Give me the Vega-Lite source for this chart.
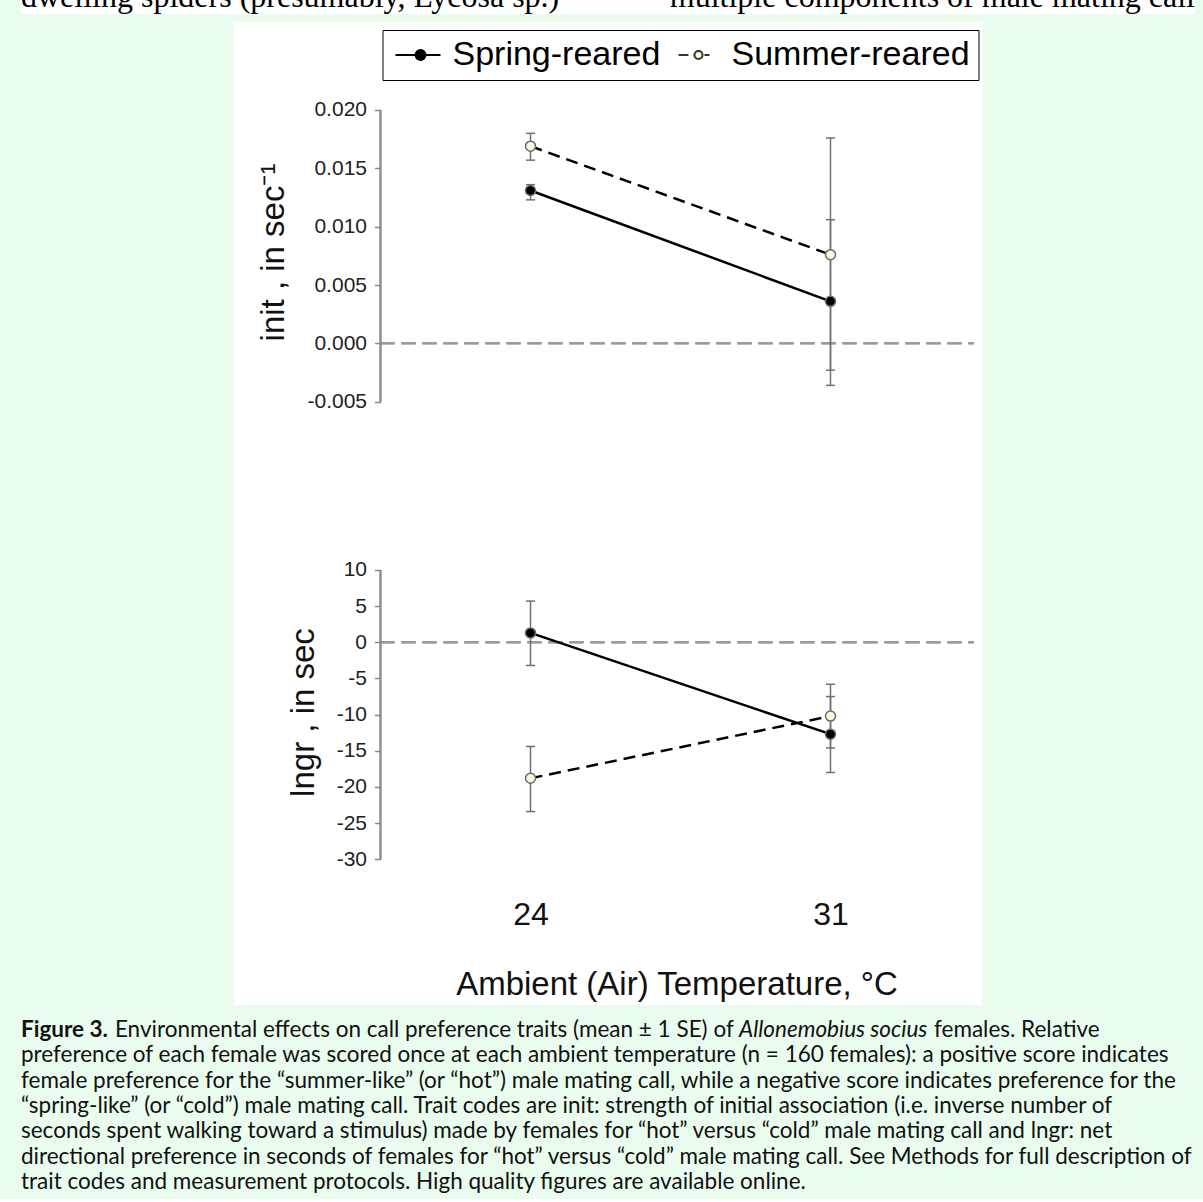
{
  "$schema": "https://vega.github.io/schema/vega-lite/v6.json",
  "background": "#eafcee",
  "padding": {"left": 21, "top": 0, "right": 8, "bottom": 0},
  "config": {"view": {"stroke": null}, "font": "Liberation Sans", "axis": {"grid": false}},
  "datasets": {
    "init": [
      {"temp": 24, "series": "Spring-reared", "mean": 0.0131, "lo": 0.0123, "hi": 0.0136},
      {"temp": 31, "series": "Spring-reared", "mean": 0.0036, "lo": -0.0036, "hi": 0.0106},
      {"temp": 24, "series": "Summer-reared", "mean": 0.0169, "lo": 0.0157, "hi": 0.0180},
      {"temp": 31, "series": "Summer-reared", "mean": 0.0076, "lo": -0.0023, "hi": 0.0176}
    ],
    "lngr": [
      {"temp": 24, "series": "Spring-reared", "mean": 1.3, "lo": -3.2, "hi": 5.7},
      {"temp": 31, "series": "Spring-reared", "mean": -12.7, "lo": -18.0, "hi": -7.5},
      {"temp": 24, "series": "Summer-reared", "mean": -18.8, "lo": -23.4, "hi": -14.4},
      {"temp": 31, "series": "Summer-reared", "mean": -10.2, "lo": -14.6, "hi": -5.8}
    ],
    "strip": [
      {"side": "l", "text": "dwelling spiders (presumably, Lycosa sp.)"},
      {"side": "r", "text": "multiple components of male mating call"}
    ],
    "caption": [
      {"line": 1, "pos": 0, "style": "b", "t": "Figure 3."},
      {"line": 1, "pos": 0.080, "style": "r", "t": "Environmental effects on call preference traits (mean ± 1 SE) of"},
      {"line": 1, "pos": 0.6116, "style": "i", "t": "Allonemobius socius"},
      {"line": 1, "pos": 0.7777, "style": "r", "t": "females. Relative"},
      {"line": 2, "pos": 0, "style": "r", "t": "preference of each female was scored once at each ambient temperature (n = 160 females): a positive score indicates"},
      {"line": 3, "pos": 0, "style": "r", "t": "female preference for the “summer-like” (or “hot”) male mating call, while a negative score indicates preference for the"},
      {"line": 4, "pos": 0, "style": "r", "t": "“spring-like” (or “cold”) male mating call. Trait codes are init: strength of initial association (i.e. inverse number of"},
      {"line": 5, "pos": 0, "style": "r", "t": "seconds spent walking toward a stimulus) made by females for “hot” versus “cold” male mating call and lngr: net"},
      {"line": 6, "pos": 0, "style": "r", "t": "directional preference in seconds of females for “hot” versus “cold” male mating call. See Methods for full description of"},
      {"line": 7, "pos": 0, "style": "r", "t": "trait codes and measurement protocols. High quality figures are available online."}
    ]
  },
  "spacing": 8,
  "center": true,
  "vconcat": [
    {
      "width": 1174,
      "height": 14,
      "view": {"fill": "white"},
      "data": {"name": "strip"},
      "layer": [
        {
          "transform": [{"filter": "datum.side === 'l'"}],
          "mark": {"type": "text", "align": "left", "baseline": "alphabetic", "font": "Liberation Serif", "fontSize": 32, "color": "black", "clip": true},
          "encoding": {
            "x": {"field": "side", "type": "nominal", "scale": {"type": "point", "padding": 0, "domain": ["l", "r"]}, "axis": null},
            "text": {"field": "text"}
          }
        },
        {
          "transform": [{"filter": "datum.side === 'r'"}],
          "mark": {"type": "text", "align": "right", "baseline": "alphabetic", "font": "Liberation Serif", "fontSize": 32, "color": "black", "clip": true},
          "encoding": {
            "x": {"field": "side", "type": "nominal", "scale": {"type": "point", "padding": 0, "domain": ["l", "r"]}, "axis": null},
            "text": {"field": "text"}
          }
        }
      ]
    },
    {
      "spacing": 0,
      "resolve": {"scale": {"x": "independent", "y": "independent", "fill": "independent"}, "legend": {"fill": "independent"}},
      "vconcat": [
        {
          "width": 749,
          "height": 464,
          "view": {"fill": "white"},
          "data": {"name": "init"},
          "encoding": {
            "x": {"field": "temp", "type": "quantitative", "scale": {"domain": [17.07, 34.5467], "nice": false, "zero": false}, "axis": null},
            "y": {
              "field": "mean", "type": "quantitative",
              "scale": {"domain": [-0.012224, 0.027541], "nice": false, "zero": false},
              "axis": {
                "values": [-0.005, 0, 0.005, 0.01, 0.015, 0.02],
                "labelExpr": "datum.value < 0 ? '-' + format(-datum.value, '.3f') : format(datum.value, '.3f')",
                "offset": -147, "domain": false, "ticks": true, "tickSize": 6, "tickColor": "#8a8a8a", "tickWidth": 1.5,
                "labelFont": "Liberation Sans", "labelFontSize": 21, "labelColor": "#222222", "labelPadding": 8,
                "title": "init , in sec⁻¹", "titleFont": "Liberation Sans", "titleFontSize": 33, "titleFontWeight": "normal",
                "titleColor": "#111111", "titlePadding": 16, "titleY": 230, "zindex": 1
              }
            }
          },
          "layer": [
            {
              "mark": {"type": "rule", "color": "#9a9a9a", "strokeWidth": 2, "strokeDash": [14, 7]},
              "encoding": {"x": {"datum": 20.5}, "x2": {"datum": 34.34}, "y": {"datum": 0}}
            },
            {
              "mark": {"type": "rule", "color": "#8a8a8a", "strokeWidth": 1.5},
              "encoding": {"x": {"datum": 20.5}, "y": {"datum": -0.005}, "y2": {"datum": 0.02}}
            },
            {
              "mark": {"type": "rule", "color": "#707070", "strokeWidth": 1.5},
              "encoding": {"y": {"field": "lo", "type": "quantitative"}, "y2": {"field": "hi"}}
            },
            {
              "mark": {"type": "tick", "orient": "horizontal", "color": "#707070", "size": 9, "thickness": 1.5, "opacity": 1},
              "encoding": {"y": {"field": "lo", "type": "quantitative"}}
            },
            {
              "mark": {"type": "tick", "orient": "horizontal", "color": "#707070", "size": 9, "thickness": 1.5, "opacity": 1},
              "encoding": {"y": {"field": "hi", "type": "quantitative"}}
            },
            {
              "transform": [{"filter": "datum.series === 'Spring-reared'"}],
              "mark": {"type": "line", "color": "black", "strokeWidth": 2.5}
            },
            {
              "transform": [{"filter": "datum.series === 'Summer-reared'"}],
              "mark": {"type": "line", "color": "black", "strokeWidth": 2.5, "strokeDash": [12, 7]}
            },
            {
              "mark": {"type": "point", "filled": true, "size": 100, "opacity": 1, "strokeWidth": 1.5, "stroke": "#6a6a6a"},
              "encoding": {
                "fill": {
                  "field": "series", "type": "nominal",
                  "scale": {"domain": ["Spring-reared", "Summer-reared"], "range": ["black", "#f7fad6"]},
                  "legend": {
                    "orient": "none", "legendX": 149, "legendY": 8, "direction": "horizontal", "title": null,
                    "labelFont": "Liberation Sans", "labelFontSize": 34, "labelColor": "black", "labelOffset": 28, "labelLimit": 400,
                    "symbolSize": 900, "symbolStrokeWidth": 2, "padding": 8,
                    "symbolStrokeColor": {"expr": "datum.value === 'Spring-reared' ? 'black' : '#333333'"},
                    "symbolType": {"expr": "datum.value === 'Spring-reared' ? 'M-0.8,0H2.2M0.54,0A0.33,0.33,0,1,0,1.2,0A0.33,0.33,0,1,0,0.54,0Z' : 'M-0.53,0H0.13M1.2,0H1.53M0.53,0A0.27,0.27,0,1,0,1.07,0A0.27,0.27,0,1,0,0.53,0Z'"},
                    "strokeColor": "black", "fillColor": "white", "columnPadding": 9
                  }
                }
              }
            }
          ]
        },
        {
          "width": 749,
          "height": 519,
          "view": {"fill": "white"},
          "data": {"name": "lngr"},
          "encoding": {
            "x": {
              "field": "temp", "type": "quantitative",
              "scale": {"domain": [17.07, 34.5467], "nice": false, "zero": false},
              "axis": {
                "values": [24, 31], "format": "d", "orient": "bottom", "offset": -106,
                "domain": false, "ticks": false, "tickSize": 0, "labelPadding": 0,
                "labelFont": "Liberation Sans", "labelFontSize": 32, "labelColor": "#111111", "labelFlush": false,
                "title": "Ambient (Air) Temperature, °C", "titleFont": "Liberation Sans", "titleFontSize": 33,
                "titleFontWeight": "normal", "titleColor": "#111111", "titlePadding": 38, "titleX": 443, "zindex": 1
              }
            },
            "y": {
              "field": "mean", "type": "quantitative",
              "scale": {"domain": [-50.144, 21.613], "nice": false, "zero": false},
              "axis": {
                "values": [-30, -25, -20, -15, -10, -5, 0, 5, 10],
                "labelExpr": "datum.value < 0 ? '-' + format(-datum.value, 'd') : format(datum.value, 'd')",
                "offset": -147, "domain": false, "ticks": true, "tickSize": 6, "tickColor": "#8a8a8a", "tickWidth": 1.5,
                "labelFont": "Liberation Sans", "labelFontSize": 21, "labelColor": "#222222", "labelPadding": 8,
                "title": "lngr , in sec", "titleFont": "Liberation Sans", "titleFontSize": 33, "titleFontWeight": "normal",
                "titleColor": "#111111", "titlePadding": 16, "titleY": 226, "zindex": 1
              }
            }
          },
          "layer": [
            {
              "mark": {"type": "rule", "color": "#9a9a9a", "strokeWidth": 2, "strokeDash": [14, 7]},
              "encoding": {"x": {"datum": 20.5}, "x2": {"datum": 34.34}, "y": {"datum": 0}}
            },
            {
              "mark": {"type": "rule", "color": "#8a8a8a", "strokeWidth": 1.5},
              "encoding": {"x": {"datum": 20.5}, "y": {"datum": -30}, "y2": {"datum": 10}}
            },
            {
              "mark": {"type": "rule", "color": "#707070", "strokeWidth": 1.5},
              "encoding": {"y": {"field": "lo", "type": "quantitative"}, "y2": {"field": "hi"}}
            },
            {
              "mark": {"type": "tick", "orient": "horizontal", "color": "#707070", "size": 9, "thickness": 1.5, "opacity": 1},
              "encoding": {"y": {"field": "lo", "type": "quantitative"}}
            },
            {
              "mark": {"type": "tick", "orient": "horizontal", "color": "#707070", "size": 9, "thickness": 1.5, "opacity": 1},
              "encoding": {"y": {"field": "hi", "type": "quantitative"}}
            },
            {
              "transform": [{"filter": "datum.series === 'Spring-reared'"}],
              "mark": {"type": "line", "color": "black", "strokeWidth": 2.5}
            },
            {
              "transform": [{"filter": "datum.series === 'Summer-reared'"}],
              "mark": {"type": "line", "color": "black", "strokeWidth": 2.5, "strokeDash": [12, 7]}
            },
            {
              "mark": {"type": "point", "filled": true, "size": 100, "opacity": 1, "strokeWidth": 1.5, "stroke": "#6a6a6a"},
              "encoding": {
                "fill": {"field": "series", "type": "nominal", "scale": {"domain": ["Spring-reared", "Summer-reared"], "range": ["black", "#f7fad6"]}, "legend": null}
              }
            }
          ]
        }
      ]
    },
    {
      "width": 1174,
      "height": 186,
      "data": {"name": "caption"},
      "layer": [
        {
          "transform": [{"filter": "datum.style === 'b'"}],
          "mark": {"type": "text", "align": "left", "baseline": "middle", "font": "Lato", "fontSize": 22.5, "fontWeight": "bold", "color": "#111111", "clip": true},
          "encoding": {
            "x": {"field": "pos", "type": "quantitative", "scale": {"domain": [0, 1], "nice": false, "zero": false}, "axis": null},
            "y": {"field": "line", "type": "ordinal", "scale": {"type": "point", "padding": 0.65}, "axis": null},
            "text": {"field": "t"}
          }
        },
        {
          "transform": [{"filter": "datum.style === 'r'"}],
          "mark": {"type": "text", "align": "left", "baseline": "middle", "font": "Lato", "fontSize": 22.5, "color": "#111111", "clip": true},
          "encoding": {
            "x": {"field": "pos", "type": "quantitative", "axis": null},
            "y": {"field": "line", "type": "ordinal", "axis": null},
            "text": {"field": "t"}
          }
        },
        {
          "transform": [{"filter": "datum.style === 'i'"}],
          "mark": {"type": "text", "align": "left", "baseline": "middle", "font": "Lato", "fontSize": 22.5, "fontStyle": "italic", "color": "#111111", "clip": true},
          "encoding": {
            "x": {"field": "pos", "type": "quantitative", "axis": null},
            "y": {"field": "line", "type": "ordinal", "axis": null},
            "text": {"field": "t"}
          }
        }
      ]
    }
  ]
}
